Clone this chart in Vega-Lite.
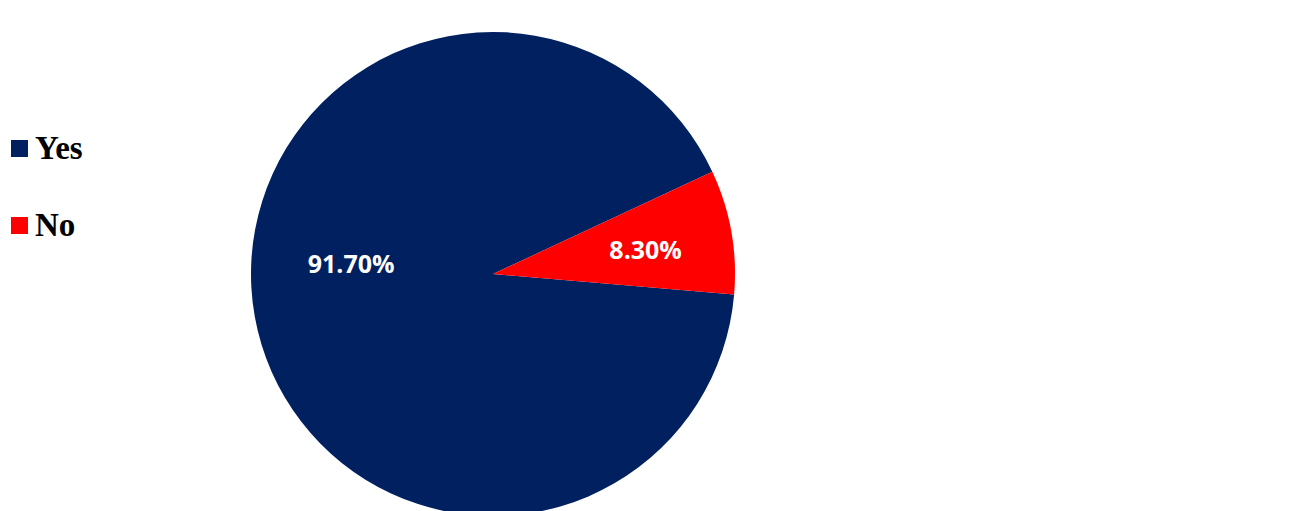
{
  "$schema": "https://vega.github.io/schema/vega-lite/v6.json",
  "width": 986,
  "height": 548,
  "autosize": {"type": "none"},
  "padding": 0,
  "background": "white",
  "config": {"view": {"stroke": null}},
  "data": {"values": [
    {"answer": "Yes", "value": 91.7, "label": "91.70%"},
    {"answer": "No", "value": 8.3, "label": "8.30%"}
  ]},
  "encoding": {
    "theta": {"field": "value", "type": "quantitative", "stack": true, "scale": {"range": [1.1345, 7.4177]}},
    "order": {"field": "answer", "sort": "ascending"}
  },
  "layer": [
    {
      "mark": {"type": "arc", "outerRadius": 242, "stroke": null},
      "encoding": {
        "color": {
          "field": "answer", "type": "nominal",
          "scale": {"domain": ["Yes", "No"], "range": ["#002060", "#FF0000"]},
          "legend": {
            "title": null, "orient": "none", "legendX": 3, "legendY": 132,
            "symbolType": "square", "symbolSize": 289, "symbolStrokeWidth": 0,
            "labelFont": "Liberation Serif", "labelFontSize": 33, "labelFontWeight": "bold",
            "labelColor": "#000000", "labelOffset": -1, "rowPadding": 43, "symbolOpacity": 1
          }
        }
      }
    },
    {
      "mark": {"type": "text", "radius": 141, "dx": -3, "dy": -34, "font": "Open Sans", "fontSize": 25, "fontWeight": "bold", "fill": "white", "baseline": "middle", "align": "center"},
      "encoding": {
        "text": {"field": "label"},
        "opacity": {"condition": {"test": "datum.answer === 'Yes'", "value": 1}, "value": 0}
      }
    },
    {
      "mark": {"type": "text", "radius": 155, "dx": 0, "dy": 4, "font": "Open Sans", "fontSize": 25, "fontWeight": "bold", "fill": "white", "baseline": "middle", "align": "center"},
      "encoding": {
        "text": {"field": "label"},
        "opacity": {"condition": {"test": "datum.answer === 'No'", "value": 1}, "value": 0}
      }
    }
  ]
}
